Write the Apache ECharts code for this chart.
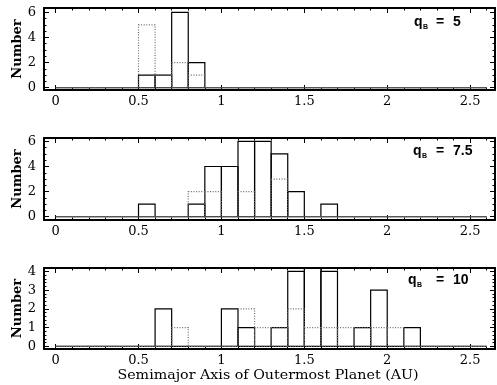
<!DOCTYPE html>
<html>
<head>
<meta charset="utf-8">
<script src="https://cdn.jsdelivr.net/npm/echarts@6/dist/echarts.min.js"></script>
<style>html,body{margin:0;padding:0;background:#fff;}#chart{width:497px;height:385px;}</style>
</head>
<body>
<div id="chart"></div>
<script>
// ---- data ----
const binLeft = [0,0.1,0.2,0.3,0.4,0.5,0.6,0.7,0.8,0.9,1.0,1.1,1.2,1.3,1.4,1.5,1.6,1.7,1.8,1.9,2.0,2.1,2.2,2.3,2.4,2.5];
const binWidth = 0.1;
//                 0 .1 .2 .3 .4 .5 .6 .7 .8 .9 1. 1.1 1.2 1.3 1.4 1.5 1.6 1.7 1.8 1.9 2. 2.1 2.2 2.3 2.4 2.5
const q5Solid   = [0, 0, 0, 0, 0, 1, 1, 6, 2, 0, 0, 0,  0,  0,  0,  0,  0,  0,  0,  0,  0, 0,  0,  0,  0,  0];
const q5Dotted  = [0, 0, 0, 0, 0, 5, 1, 2, 1, 0, 0, 0,  0,  0,  0,  0,  0,  0,  0,  0,  0, 0,  0,  0,  0,  0];
const q75Solid  = [0, 0, 0, 0, 0, 1, 0, 0, 1, 4, 4, 6,  6,  5,  2,  0,  1,  0,  0,  0,  0, 0,  0,  0,  0,  0];
const q75Dotted = [0, 0, 0, 0, 0, 0, 0, 0, 2, 2, 0, 2,  0,  3,  0,  0,  0,  0,  0,  0,  0, 0,  0,  0,  0,  0];
const q10Solid  = [0, 0, 0, 0, 0, 0, 2, 0, 0, 0, 2, 1,  0,  1,  4,  5,  4,  0,  1,  3,  0, 1,  0,  0,  0,  0];
const q10Dotted = [0, 0, 0, 0, 0, 0, 0, 1, 0, 0, 0, 2,  1,  1,  2,  1,  1,  1,  1,  1,  1, 0,  0,  0,  0,  0];
const panelLabels = ['5', '7.5', '10'];
const xMajorTicks = [0, 0.5, 1, 1.5, 2, 2.5];
const xMinorTicks = [0,0.1,0.2,0.3,0.4,0.5,0.6,0.7,0.8,0.9,1.0,1.1,1.2,1.3,1.4,1.5,1.6,1.7,1.8,1.9,2.0,2.1,2.2,2.3,2.4,2.5,2.6];
const yMajorTicksA = [0, 2, 4, 6];
const yMinorTicksA = [0,0.5,1,1.5,2,2.5,3,3.5,4,4.5,5,5.5,6];
const yMajorTicksB = [0, 1, 2, 3, 4];
const yMinorTicksB = [0,0.2,0.4,0.6,0.8,1,1.2,1.4,1.6,1.8,2,2.2,2.4,2.6,2.8,3,3.2,3.4,3.6,3.8,4];
const xTitle = 'Semimajor Axis of Outermost Planet (AU)';
const yTitle = 'Number';

// ---- layout ----
const SERIF = '"DejaVu Serif", serif';
const SANS = '"Liberation Sans", Arial, sans-serif';
const xRange = [-0.07, 2.65];
const panels = [
  {top: 8,   height: 82, y: [-0.18, 6.34], major: yMajorTicksA, minor: yMinorTicksA, solid: q5Solid,  dotted: q5Dotted,  label: panelLabels[0], ly: 22.5,  lx: 414},
  {top: 138, height: 82, y: [-0.26, 6.27], major: yMajorTicksA, minor: yMinorTicksA, solid: q75Solid, dotted: q75Dotted, label: panelLabels[1], ly: 151.5, lx: 413},
  {top: 268, height: 81, y: [-0.14, 4.18], major: yMajorTicksB, minor: yMinorTicksB, solid: q10Solid, dotted: q10Dotted, label: panelLabels[2], ly: 280.5, lx: 408}
];

const grids = [], xAxes = [], yAxes = [], series = [], graphics = [];

function mkAxis(kind, p, gi, position, isMajor, showLine, showLabel) {
  const major = kind === 'x' ? xMajorTicks : p.major;
  const minor = kind === 'x' ? xMinorTicks : p.minor;
  const rng = kind === 'x' ? xRange : p.y;
  return {
    type: 'value', gridIndex: gi, position: position,
    min: rng[0], max: rng[1],
    axisLine: {show: showLine, onZero: false, lineStyle: {color: '#000', width: 2}},
    axisTick: {show: true, inside: true, length: isMajor ? 5 : 2.5, customValues: isMajor ? major : minor,
               lineStyle: {color: '#000', width: 1}},
    axisLabel: {show: showLabel, customValues: major, color: '#000', fontFamily: SERIF, fontSize: 13,
                margin: kind === 'x' ? 5 : 8,
                formatter: v => String(v)},
    splitLine: {show: false},
    minorTick: {show: false}
  };
}

function histItem(params, api) {
  const x0 = api.value(0), x1 = api.value(1), h = api.value(2);
  const p0 = api.coord([x0, 0]);
  const p1 = api.coord([x1, h]);
  return {
    type: 'rect',
    shape: {x: p0[0], y: Math.min(p0[1], p1[1]), width: p1[0] - p0[0], height: Math.abs(p0[1] - p1[1])},
    style: {fill: null}
  };
}

panels.forEach((p, gi) => {
  grids.push({left: 44, right: 2, top: p.top, height: p.height, containLabel: false});
  const b = xAxes.length;
  xAxes.push(mkAxis('x', p, gi, 'bottom', true, true, true));
  xAxes.push(mkAxis('x', p, gi, 'bottom', false, false, false));
  xAxes.push(mkAxis('x', p, gi, 'top', true, true, false));
  xAxes.push(mkAxis('x', p, gi, 'top', false, false, false));
  yAxes.push(mkAxis('y', p, gi, 'left', true, true, true));
  yAxes.push(mkAxis('y', p, gi, 'left', false, false, false));
  yAxes.push(mkAxis('y', p, gi, 'right', true, true, false));
  yAxes.push(mkAxis('y', p, gi, 'right', false, false, false));

  const solidData = binLeft.map((l, i) => [l, l + binWidth, p.solid[i]]);
  const dottedData = binLeft.map((l, i) => [l, l + binWidth, p.dotted[i]]);
  series.push({
    type: 'custom', xAxisIndex: b, yAxisIndex: b, clip: true, silent: true,
    renderItem: (params, api) => {
      const el = histItem(params, api);
      el.style.stroke = '#000'; el.style.lineWidth = 1.2; el.style.lineDash = null;
      return el;
    },
    encode: {x: [0, 1], y: 2},
    data: solidData, z: 2
  });
  series.push({
    type: 'custom', xAxisIndex: b, yAxisIndex: b, clip: true, silent: true,
    renderItem: (params, api) => {
      const el = histItem(params, api);
      el.style.stroke = '#6a6a6a'; el.style.lineWidth = 1.2; el.style.lineDash = [1, 1.6];
      return el;
    },
    encode: {x: [0, 1], y: 2},
    data: dottedData, z: 3
  });

  // y-title
  graphics.push({
    type: 'text', x: 18, y: p.top + p.height / 2, rotation: Math.PI / 2,
    style: {text: yTitle, font: 'bold 13px ' + SERIF, fill: '#000', align: 'center', verticalAlign: 'middle'}
  });
  // panel label q_B = ...
  graphics.push({type: 'text', x: p.lx, y: p.ly,
    style: {text: 'q', font: 'bold 14px ' + SANS, fill: '#000', align: 'left', verticalAlign: 'middle'}});
  graphics.push({type: 'text', x: p.lx + 9, y: p.ly + 4.5,
    style: {text: 'B', font: 'bold 7px ' + SANS, fill: '#000', align: 'left', verticalAlign: 'middle'}});
  graphics.push({type: 'text', x: 436, y: p.ly,
    style: {text: '=', font: 'bold 14px ' + SANS, fill: '#000', align: 'left', verticalAlign: 'middle'}});
  graphics.push({type: 'text', x: 453, y: p.ly,
    style: {text: p.label, font: 'bold 14px ' + SANS, fill: '#000', align: 'left', verticalAlign: 'middle'}});
});

graphics.push({
  type: 'text', x: 268, y: 376, scaleX: 1.14,
  style: {text: xTitle, font: '12.5px ' + SERIF, fill: '#000', align: 'center', verticalAlign: 'middle'}
});

const chart = echarts.init(document.getElementById('chart'), null, {renderer: 'canvas'});
chart.setOption({
  animation: false,
  backgroundColor: '#fff',
  grid: grids,
  xAxis: xAxes,
  yAxis: yAxes,
  series: series,
  graphic: graphics
});
</script>
</body>
</html>
